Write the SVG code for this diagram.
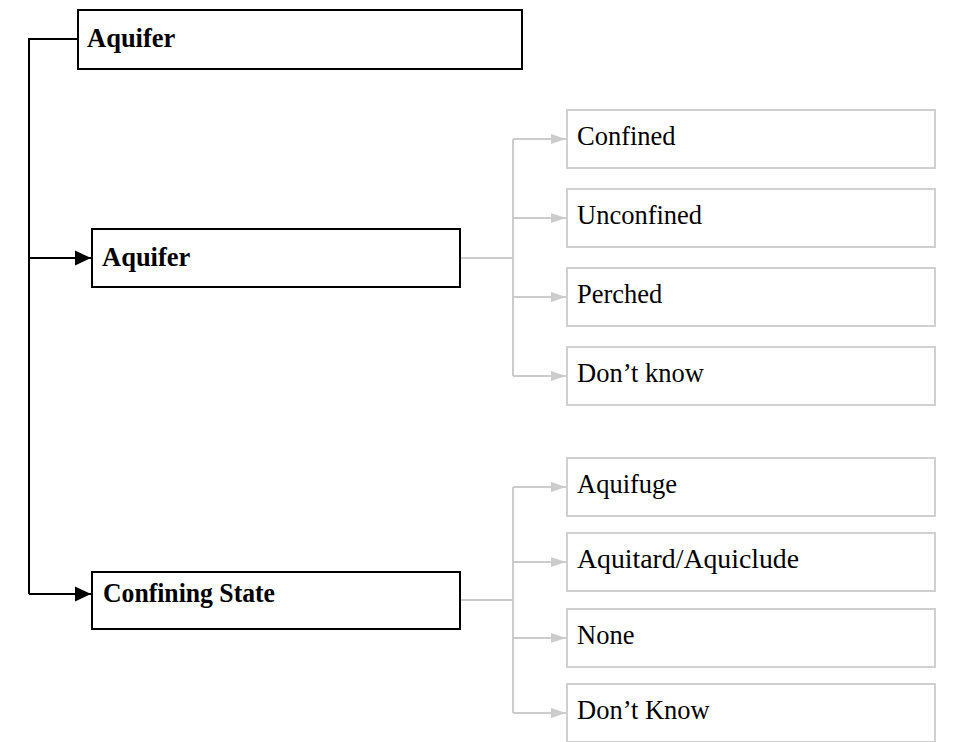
<svg xmlns="http://www.w3.org/2000/svg" width="954" height="742" viewBox="0 0 954 742">
<style>
.main rect{fill:#fff;stroke:#000;stroke-width:2}
.sub rect{fill:#fff;stroke:#d0d0d0;stroke-width:2}
.bt{font-family:"Liberation Serif",serif;font-weight:bold;font-size:26.5px;fill:#000}
.rt{font-family:"Liberation Serif",serif;font-size:26.5px;fill:#000}
.bl{fill:none;stroke:#000;stroke-width:2}
.gl{fill:none;stroke:#cccccc;stroke-width:2}
</style>
<defs>
<marker id="ab" markerUnits="userSpaceOnUse" markerWidth="17" markerHeight="16" refX="16" refY="8" orient="auto"><path d="M0,0.5 L16,8 L0,15.5 Z" fill="#000"/></marker>
<marker id="ag" markerUnits="userSpaceOnUse" markerWidth="16" markerHeight="12" refX="15" refY="6" orient="auto"><path d="M0,1 L15,6 L0,11 Z" fill="#cccccc"/></marker>
</defs>
<rect width="954" height="742" fill="#fff"/>
<g id="connectors">
<path class="bl" d="M78,39 H29 V594"/>
<path class="bl" d="M29,258 H91" marker-end="url(#ab)"/>
<path class="bl" d="M29,594 H91" marker-end="url(#ab)"/>
<path class="gl" d="M461,258 H513 M513,139 V376"/>
<path class="gl" d="M513,139 H566" marker-end="url(#ag)"/>
<path class="gl" d="M513,218 H566" marker-end="url(#ag)"/>
<path class="gl" d="M513,297 H566" marker-end="url(#ag)"/>
<path class="gl" d="M513,376 H566" marker-end="url(#ag)"/>
<path class="gl" d="M461,600 H513 M513,487 V713"/>
<path class="gl" d="M513,487 H566" marker-end="url(#ag)"/>
<path class="gl" d="M513,562 H566" marker-end="url(#ag)"/>
<path class="gl" d="M513,638 H566" marker-end="url(#ag)"/>
<path class="gl" d="M513,713 H566" marker-end="url(#ag)"/>
</g>
<g id="root" class="main"><rect x="78" y="10" width="444" height="59"/><text class="bt" x="87" y="47">Aquifer</text></g>
<g id="aquifer" class="main"><rect x="92" y="229" width="368" height="58"/><text class="bt" x="102" y="266">Aquifer</text></g>
<g id="confining" class="main"><rect x="92" y="572" width="368" height="57"/><text class="bt" x="103" y="602" textLength="172" lengthAdjust="spacingAndGlyphs">Confining State</text></g>
<g id="confined" class="sub"><rect x="567" y="110" width="368" height="58"/><text class="rt" x="577" y="145">Confined</text></g>
<g id="unconfined" class="sub"><rect x="567" y="189" width="368" height="58"/><text class="rt" x="577" y="224">Unconfined</text></g>
<g id="perched" class="sub"><rect x="567" y="268" width="368" height="58"/><text class="rt" x="577" y="303">Perched</text></g>
<g id="dontknow1" class="sub"><rect x="567" y="347" width="368" height="58"/><text class="rt" x="577" y="382">Don’t know</text></g>
<g id="aquifuge" class="sub"><rect x="567" y="458" width="368" height="58"/><text class="rt" x="577" y="493">Aquifuge</text></g>
<g id="aquitard" class="sub"><rect x="567" y="533" width="368" height="58"/><text class="rt" x="577" y="568" textLength="222" lengthAdjust="spacingAndGlyphs">Aquitard/Aquiclude</text></g>
<g id="none" class="sub"><rect x="567" y="609" width="368" height="58"/><text class="rt" x="577" y="644">None</text></g>
<g id="dontknow2" class="sub"><rect x="567" y="684" width="368" height="58"/><text class="rt" x="577" y="719">Don’t Know</text></g>
</svg>
